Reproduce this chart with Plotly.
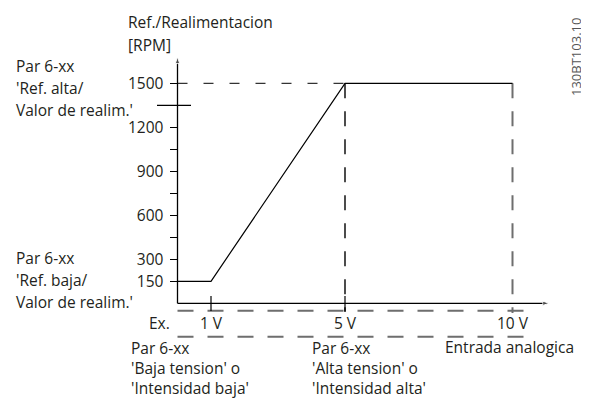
import plotly.graph_objects as go

# values
volt = [0, 1, 5, 10]
rpm = [150, 150, 1500, 1500]
ytick_vals = [150, 300, 450, 600, 750, 900, 1050, 1200, 1500]
ytick_text = ['150', '300', '', '600', '', '900', '', '1200', '1500']
xtick_vals = [1, 5, 10]
xtick_text = ['1 V', '5 V', '10 V']
mark_rpm = 1350
y_top = 1680
x_end = 11.1

# page has an 8px body margin, so the figure sits at (8, 8)
OFF = 8
W, H = 589 - OFF, 398 - OFF
FONT = 'Open Sans'
FS = 15.5
TXT = '#231f20'
GRAY = '#6e6e6e'

# pixel scale of the original drawing (screen pixels)
x0px, vpx = 177.5, 33.5
y0px, rpx = 303.3, 44 / 300


def px_x(v):
    return (v - x0px) / vpx


def px_y(p):
    return (y0px - p) / rpx


fig = go.Figure()

def line(x, y, color='black', width=1.2, dash=None):
    fig.add_trace(go.Scatter(x=x, y=y, mode='lines', hoverinfo='skip',
                             line=dict(color=color, width=width, dash=dash)))

# dashed helpers
line([0, volt[2]], [rpm[2], rpm[2]], width=1, dash='10px,16px')
line([volt[2], volt[2]], [rpm[2], px_y(312)], width=1.4, dash='15px,13px')
line([volt[3], volt[3]], [rpm[3], px_y(313)], color=GRAY, width=2, dash='15px,13px')
for ry in [310.7, 336.7]:
    line([0, px_x(532)], [px_y(ry), px_y(ry)], color=GRAY, width=2, dash='16px,14px')

# axes with arrow heads
fig.add_trace(go.Scatter(x=[0, 0], y=[0, y_top], mode='lines+markers', hoverinfo='skip',
                         line=dict(color='black', width=1.3),
                         marker=dict(symbol='arrow', size=[0, 7], angleref='previous', color='black')))
fig.add_trace(go.Scatter(x=[0, x_end], y=[0, 0], mode='lines+markers', hoverinfo='skip',
                         line=dict(color='black', width=1.3),
                         marker=dict(symbol='arrow', size=[0, 7], angleref='previous', color='black')))

# crossing ticks
for v in volt[1:3]:
    line([v, v], [px_y(296), px_y(311)], width=1.2)
line([px_x(157), px_x(191)], [mark_rpm, mark_rpm], width=1.2)

# characteristic
line(volt, rpm, width=1.2)

fig.update_layout(
    width=W, height=H, autosize=False,
    margin=dict(l=0, r=0, t=0, b=0),
    paper_bgcolor='white', plot_bgcolor='white',
    showlegend=False,
    font=dict(family=FONT, size=FS, color=TXT),
    xaxis=dict(range=[px_x(OFF), px_x(589)], domain=[0, 1], anchor='free',
               position=(398 - y0px) / H, showgrid=False, zeroline=False,
               showline=False, ticks='', tickvals=xtick_vals, ticktext=xtick_text,
               ticklabelstandoff=9, tickfont=dict(size=FS, color=TXT)),
    yaxis=dict(range=[px_y(398), px_y(OFF)], domain=[0, 1], anchor='free',
               position=(x0px - OFF) / W, showgrid=False, zeroline=False,
               showline=False, ticks='outside', ticklen=8, tickwidth=1.2,
               tickcolor='black', tickvals=ytick_vals, ticktext=ytick_text,
               ticklabelstandoff=3, tickfont=dict(size=FS, color=TXT)),
)

texts = [
    ('Ref./Realimentacion', 127, 22),
    ('[RPM]', 127, 45),
    ('Par 6-xx', 15, 66),
    ("'Ref. alta/", 15, 88),
    ("Valor de realim.'", 15, 110),
    ('Par 6-xx', 15, 258),
    ("'Ref. baja/", 15, 280),
    ("Valor de realim.'", 15, 302),
    ('Ex.', 148, 323),
    ('Entrada analogica', 444, 347),
    ('Par 6-xx', 130, 348),
    ("'Baja tension' o", 130, 368),
    ("'Intensidad baja'", 130, 388),
    ('Par 6-xx', 311, 348),
    ("'Alta tension' o", 311, 368),
    ("'Intensidad alta'", 311, 388),
]
for t, xp, yp in texts:
    fig.add_annotation(text=t, x=(xp - OFF) / W, y=1 - (yp - OFF) / H,
                       xref='paper', yref='paper', borderpad=0,
                       xanchor='left', yanchor='middle', showarrow=False,
                       font=dict(family=FONT, size=FS, color=TXT))

fig.add_annotation(text='130BT103.10', x=(576 - OFF) / W, y=1 - (57 - OFF) / H,
                   xref='paper', yref='paper',
                   textangle=-90, showarrow=False, xanchor='center', yanchor='middle',
                   font=dict(family=FONT, size=13, color='#555555'))

fig.write_html('out.html')
